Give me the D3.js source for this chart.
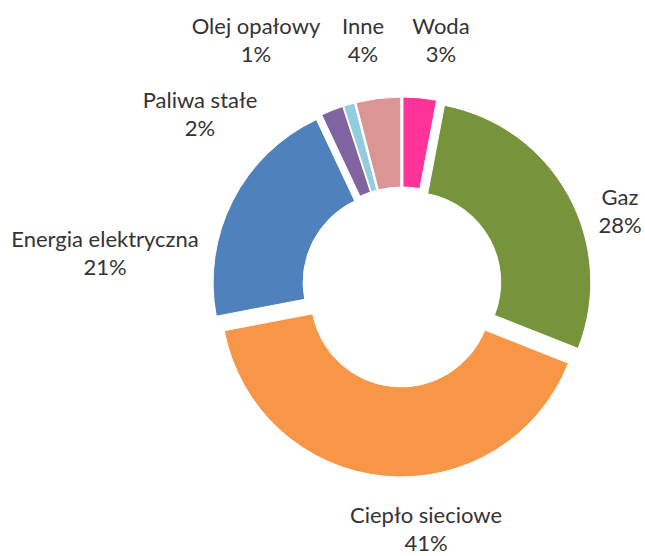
<!DOCTYPE html>
<html>
<head>
<meta charset="utf-8">
<script src="https://cdn.jsdelivr.net/npm/d3@7"></script>
<style>
  html, body { margin: 0; padding: 0; background: #fff; }
  svg { display: block; }
</style>
</head>
<body>
<svg id="chart" width="645" height="556"></svg>
<script>
// Data
const categories = ["Woda", "Gaz", "Ciepło sieciowe", "Energia elektryczna", "Paliwa stałe", "Olej opałowy", "Inne"];
const values = [3, 28, 41, 21, 2, 1, 4];
const colors = ["#FF3399", "#77933C", "#F79646", "#4F81BD", "#8064A2", "#93CDDD", "#D99694"];

// Layout config (label placement relative to pie centre: centre x, first baseline)
const labelOffsets = [
  [39, -253], [218, -82], [24, 236], [-297, -40], [-202, -179], [-146, -253], [-39, -253]
];

const W = 645, H = 556;
const cx = 402, cy = 287;
const outerR = 180, innerR = 90, explode = 10;
const fontSize = 22, lineGap = 28;

const svg = d3.select("#chart");
const g = svg.append("g").attr("transform", `translate(${cx},${cy})`);

const pie = d3.pie().sort(null).value(d => d.value).startAngle(0).endAngle(2 * Math.PI);
const arc = d3.arc().innerRadius(innerR).outerRadius(outerR);

const data = categories.map((c, i) => ({ name: c, value: values[i], color: colors[i], lo: labelOffsets[i] }));
const arcs = pie(data);
const total = d3.sum(values);

g.selectAll("path.slice")
  .data(arcs)
  .join("path")
  .attr("class", "slice")
  .attr("d", arc)
  .attr("fill", d => d.data.color)
  .attr("stroke", "#fff")
  .attr("stroke-width", 1)
  .attr("transform", d => {
    const a = (d.startAngle + d.endAngle) / 2;
    return `translate(${explode * Math.sin(a)},${-explode * Math.cos(a)})`;
  });

const fmt = d3.format(".0%");
const labels = g.selectAll("text.lbl")
  .data(arcs)
  .join("text")
  .attr("class", "lbl")
  .attr("text-anchor", "middle")
  .attr("font-family", "Lato, 'Open Sans', sans-serif")
  .attr("font-size", fontSize)
  .attr("fill", "#333")
  .attr("x", d => d.data.lo[0])
  .attr("y", d => d.data.lo[1]);

labels.append("tspan")
  .attr("x", d => d.data.lo[0])
  .text(d => d.data.name);
labels.append("tspan")
  .attr("x", d => d.data.lo[0])
  .attr("dy", lineGap)
  .text(d => fmt(d.data.value / total));
</script>
</body>
</html>
